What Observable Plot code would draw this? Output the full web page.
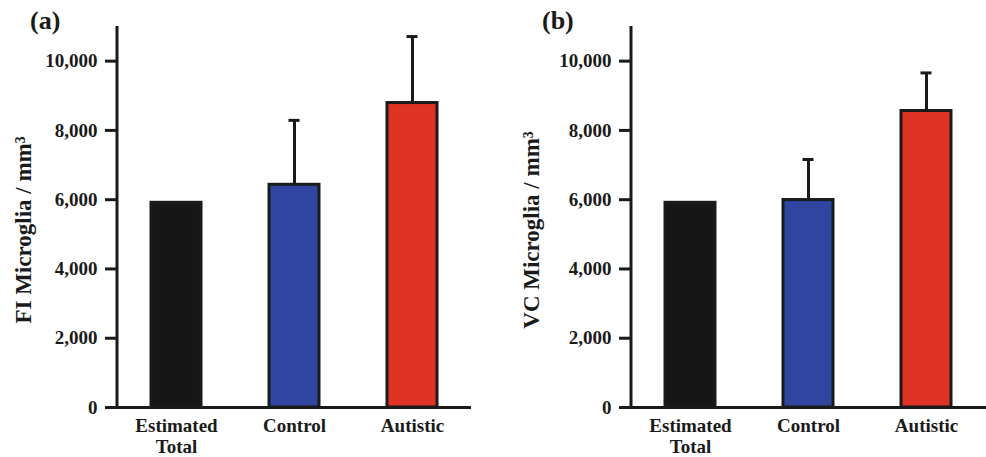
<!DOCTYPE html>
<html>
<head>
<meta charset="utf-8">
<script src="https://cdn.jsdelivr.net/npm/d3@7"></script>
<script src="https://cdn.jsdelivr.net/npm/@observablehq/plot@0.6"></script>
<style>
  html, body { margin: 0; padding: 0; background: #fff; }
  #wrap { position: relative; width: 986px; height: 457px; overflow: hidden; }
  .panel { position: absolute; top: 0; }
  .tag { position: absolute; font-family: "Liberation Serif", serif; font-weight: bold; font-size: 26px; color: #1a1a1a; line-height: 1; }
</style>
</head>
<body>
<div id="wrap"></div>
<script>
// ---- data ----
const categories = ["Estimated Total", "Control", "Autistic"];
const colors = ["#161616", "#2f45a0", "#de3224"];
const fiMeans = [5910, 6430, 8790];
const fiErrors = [null, 1860, 1920];
const vcMeans = [5910, 5990, 8560];
const vcErrors = [null, 1170, 1100];
const yTicks = [0, 2000, 4000, 6000, 8000, 10000];
const yMax = 11000;
const panelTags = ["(a)", "(b)"];
const yLabels = ["FI Microglia / mm³", "VC Microglia / mm³"];

const ink = "#1a1a1a";

function makePanel(means, errors, yLabel, opts) {
  const rows = categories.map((c, i) => ({cat: c, mean: means[i], err: errors[i], color: colors[i]}));
  const errRows = rows.filter(d => d.err != null).map(d => ({...d, top: d.mean + d.err}));
  const yAxisLine = (index, scales, values, dimensions) => {
    const line = document.createElementNS("http://www.w3.org/2000/svg", "line");
    const x = dimensions.marginLeft;
    line.setAttribute("x1", x); line.setAttribute("x2", x);
    line.setAttribute("y1", scales.y(0)); line.setAttribute("y2", scales.y(yMax));
    line.setAttribute("stroke", ink); line.setAttribute("stroke-width", 3);
    return line;
  };
  return Plot.plot({
    width: opts.width,
    height: 457,
    marginLeft: 117,
    marginRight: opts.marginRight,
    marginTop: 26,
    marginBottom: 50,
    style: {fontFamily: "Liberation Serif, serif", fontWeight: "bold", fontSize: "19px", color: ink, background: "transparent", overflow: "visible"},
    x: {domain: categories, paddingInner: 0.576, paddingOuter: 0.288, axis: null},
    y: {domain: [0, yMax], axis: null},
    marks: [
      Plot.ruleX(errRows, {x: "cat", y1: "mean", y2: "top", stroke: ink, strokeWidth: 3}),
      Plot.tickY(errRows, {x: "cat", y: "top", stroke: ink, strokeWidth: 3, insetLeft: 19.5, insetRight: 19.5}),
      Plot.barY(rows, {x: "cat", y: "mean", fill: "color", stroke: ink, strokeWidth: 3}),
      Plot.ruleY([0], {stroke: ink, strokeWidth: 3}),
      yAxisLine,
      Plot.axisY({ticks: yTicks, tickSize: 12, tickPadding: 8, strokeWidth: 3, tickFormat: d3.format(","), fontSize: 19, fontWeight: "bold", label: null}),
      Plot.axisX({tickSize: 0, tickPadding: 10, lineHeight: 1.1, fontSize: 19, fontWeight: "bold", label: null,
        tickFormat: d => d === "Estimated Total" ? "Estimated\nTotal" : d}),
      Plot.text([yLabel], {text: d => d, frameAnchor: "left", textAnchor: "middle", lineAnchor: "middle", rotate: -90, dx: opts.labelDx, dy: 13, fontSize: 23, fontWeight: "bold", fill: ink})
    ]
  });
}

const wrap = document.getElementById("wrap");
const panels = [
  {means: fiMeans, errors: fiErrors, left: 0, width: 490, marginRight: 19, labelDx: -94, tagLeft: 30},
  {means: vcMeans, errors: vcErrors, left: 514, width: 472, marginRight: 0, labelDx: -100, tagLeft: 542}
];
panels.forEach((p, i) => {
  const div = document.createElement("div");
  div.className = "panel";
  div.style.left = p.left + "px";
  div.appendChild(makePanel(p.means, p.errors, yLabels[i], p));
  wrap.appendChild(div);
  const tag = document.createElement("div");
  tag.className = "tag";
  tag.style.left = p.tagLeft + "px";
  tag.style.top = "8px";
  tag.textContent = panelTags[i];
  wrap.appendChild(tag);
});
</script>
</body>
</html>
